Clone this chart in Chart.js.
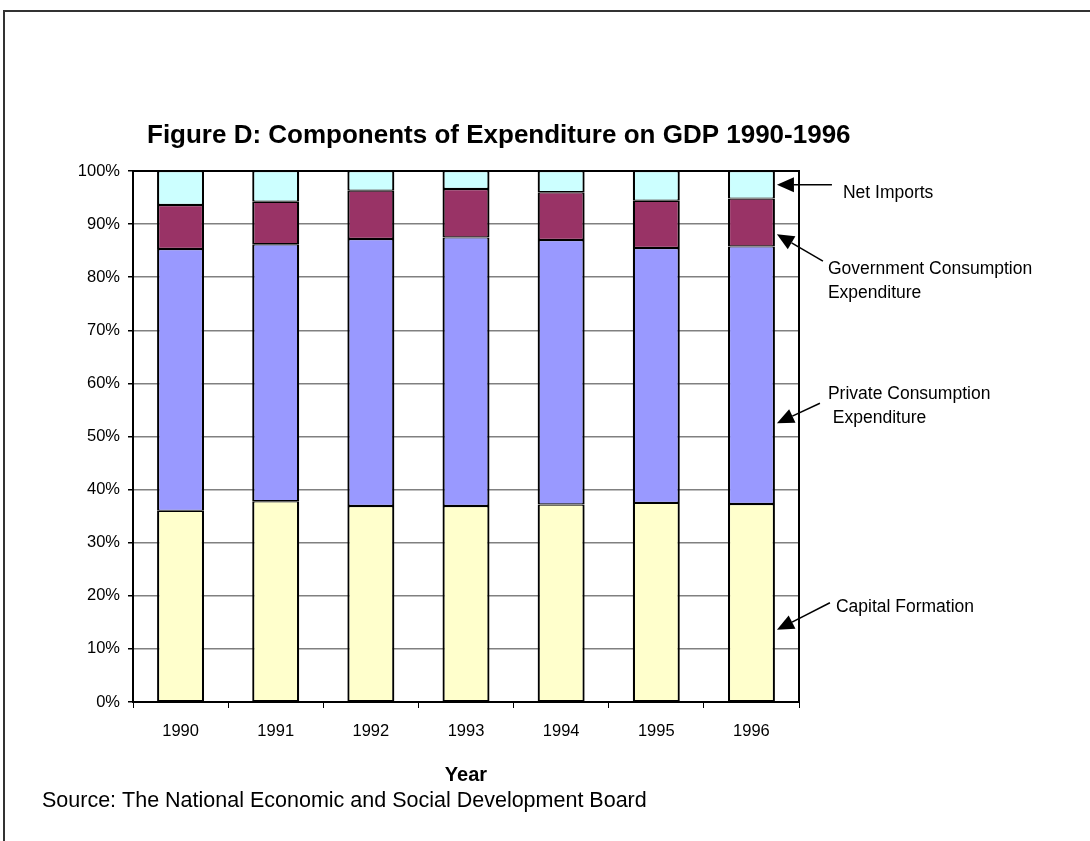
<!DOCTYPE html>
<html>
<head>
<meta charset="utf-8">
<title>Components of Expenditure on GDP 1990-1996</title>
<script src="https://cdn.jsdelivr.net/npm/chart.js@4.4.0/dist/chart.umd.min.js"></script>
<style>
  html, body { margin: 0; padding: 0; background: #fff; }
  #wrap { width: 1090px; height: 841px; position: relative; }
</style>
</head>
<body>
<div id="wrap"><canvas id="gdpChart" width="1090" height="841"></canvas></div>
<script>
// Shares of GDP by expenditure component (percent, each year sums to 100)
const years = ['1990', '1991', '1992', '1993', '1994', '1995', '1996'];
const capitalFormation = [36.0, 37.8, 36.9, 36.9, 37.2, 37.5, 37.3];
const privateConsumption = [49.3, 48.4, 50.3, 50.6, 49.8, 48.0, 48.5];
const governmentConsumption = [8.3, 8.0, 9.1, 9.1, 9.0, 8.9, 9.0];
const netImports = [6.4, 5.8, 3.7, 3.4, 4.0, 5.6, 5.2];
const yTicks = [0, 10, 20, 30, 40, 50, 60, 70, 80, 90, 100];

const FONT = '"Liberation Sans", Arial, sans-serif';

// Callout labels on the right, pointing at the last bar
const callouts = [
  { lines: ['Net Imports'], value: 97.4, lineEnd: [55, 0], text: [66, 8] },
  { lines: ['Government Consumption', 'Expenditure'], value: 88.1, lineEnd: [46, 27], text: [51, 35] },
  { lines: ['Private Consumption', ' Expenditure'], value: 52.5, lineEnd: [43, -20], text: [51, -29] },
  { lines: ['Capital Formation'], value: 13.6, lineEnd: [53, -27], text: [59, -23] }
];

// White page with the thin frame line along the top and left
const framePlugin = {
  id: 'frame',
  beforeDraw(chart) {
    const ctx = chart.ctx;
    ctx.save();
    ctx.fillStyle = '#fff';
    ctx.fillRect(0, 0, chart.width, chart.height);
    ctx.strokeStyle = '#333';
    ctx.lineWidth = 2;
    ctx.beginPath();
    ctx.moveTo(4, chart.height);
    ctx.lineTo(4, 11);
    ctx.lineTo(chart.width, 11);
    ctx.stroke();
    ctx.restore();
  }
};

function drawArrow(ctx, fromX, fromY, tipX, tipY) {
  const ang = Math.atan2(tipY - fromY, tipX - fromX);
  const len = 17, half = 7.5;
  const bx = tipX - len * Math.cos(ang), by = tipY - len * Math.sin(ang);
  ctx.beginPath();
  ctx.moveTo(fromX, fromY);
  ctx.lineTo(bx, by);
  ctx.stroke();
  ctx.beginPath();
  ctx.moveTo(tipX, tipY);
  ctx.lineTo(bx - half * Math.sin(ang), by + half * Math.cos(ang));
  ctx.lineTo(bx + half * Math.sin(ang), by - half * Math.cos(ang));
  ctx.closePath();
  ctx.fill();
}

const annotatePlugin = {
  id: 'annotate',
  afterDraw(chart) {
    const ctx = chart.ctx;
    const area = chart.chartArea;
    const yScale = chart.scales.y;
    ctx.save();

    // plot area box
    ctx.strokeStyle = '#000';
    ctx.lineWidth = 2;
    ctx.strokeRect(area.left, area.top, area.right - area.left, area.bottom - area.top);

    // title
    ctx.fillStyle = '#000';
    ctx.textBaseline = 'middle';
    ctx.textAlign = 'left';
    ctx.font = 'bold 26px ' + FONT;
    ctx.fillText('Figure D: Components of Expenditure on GDP 1990-1996', 147, 136);

    // axis title
    ctx.textAlign = 'center';
    ctx.font = 'bold 20px ' + FONT;
    ctx.fillText('Year', (area.left + area.right) / 2, 775);

    // source note
    ctx.textAlign = 'left';
    ctx.font = '21.5px ' + FONT;
    ctx.fillText('Source: The National Economic and Social Development Board', 42, 801);

    // callouts
    const lastBars = chart.getDatasetMeta(0).data;
    const lastBar = lastBars[lastBars.length - 1];
    const tipX = lastBar.x + lastBar.width / 2 + 2;
    ctx.lineWidth = 1.5;
    ctx.font = '17.5px ' + FONT;
    callouts.forEach(c => {
      const tipY = yScale.getPixelForValue(c.value);
      const fx = tipX + c.lineEnd[0];
      const fy = tipY + c.lineEnd[1];
      drawArrow(ctx, fx, fy, tipX, tipY);
      c.lines.forEach((line, i) => {
        ctx.fillText(line, tipX + c.text[0], tipY + c.text[1] + i * 24);
      });
    });
    ctx.restore();
  }
};

function makeSet(label, data, color) {
  return {
    label: label,
    data: data,
    backgroundColor: color,
    borderColor: '#000',
    // thin top/bottom so stacked joins add up to the same weight as the sides
    borderWidth: { top: 1.2, bottom: 1.2, left: 2.2, right: 2.2 },
    borderSkipped: false,
    categoryPercentage: 1.0,
    barPercentage: 0.494
  };
}

new Chart(document.getElementById('gdpChart').getContext('2d'), {
  type: 'bar',
  data: {
    labels: years,
    datasets: [
      makeSet('Capital Formation', capitalFormation, '#FFFFCC'),
      makeSet('Private Consumption Expenditure', privateConsumption, '#9999FF'),
      makeSet('Government Consumption Expenditure', governmentConsumption, '#993366'),
      makeSet('Net Imports', netImports, '#CCFFFF')
    ]
  },
  options: {
    responsive: false,
    animation: false,
    layout: { padding: { left: 0, top: 171, right: 291, bottom: 0 } },
    plugins: {
      legend: { display: false },
      title: { display: false },
      tooltip: { enabled: false }
    },
    scales: {
      x: {
        stacked: true,
        afterFit(scale) { scale.height = 139; },
        grid: {
          offset: true,
          drawOnChartArea: false,
          drawTicks: true,
          tickLength: 6,
          tickColor: '#000',
          lineWidth: 1
        },
        border: { color: '#000', width: 2 },
        ticks: {
          color: '#000',
          padding: 14,
          font: { family: FONT, size: 16.5 }
        }
      },
      y: {
        stacked: true,
        min: 0,
        max: 100,
        afterFit(scale) { scale.width = 133; },
        afterBuildTicks(scale) { scale.ticks = yTicks.map(v => ({ value: v })); },
        grid: {
          color: '#808080',
          lineWidth: 1.5,
          drawTicks: true,
          tickLength: 5,
          tickColor: '#000'
        },
        border: { color: '#000', width: 2 },
        ticks: {
          color: '#000',
          padding: 8,
          font: { family: FONT, size: 16.5 },
          callback: v => v + '%'
        }
      }
    }
  },
  plugins: [framePlugin, annotatePlugin]
});
</script>
</body>
</html>
